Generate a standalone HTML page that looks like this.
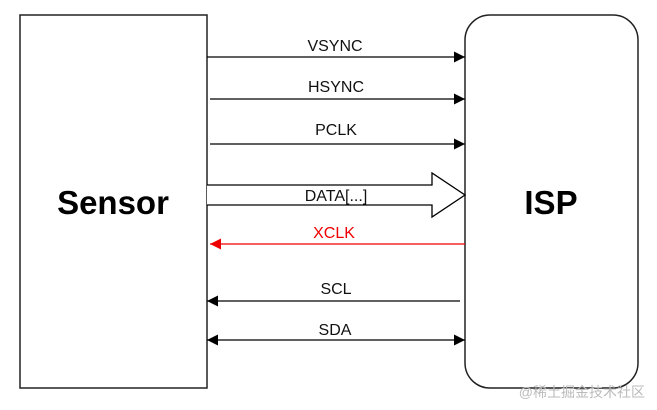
<!DOCTYPE html>
<html><head><meta charset="utf-8"><style>
html,body{margin:0;padding:0;background:#fff;}
svg{display:block;}
text{font-family:"Liberation Sans",Arial,sans-serif;}
</style></head><body>
<svg width="657" height="410" viewBox="0 0 657 410" xmlns="http://www.w3.org/2000/svg">
<defs>
<marker id="a" viewBox="0 0 10 10" refX="10" refY="5" markerWidth="12" markerHeight="11" markerUnits="userSpaceOnUse" orient="auto"><path d="M0,0 L10,5 L0,10 z" fill="#000"/></marker>
<marker id="ab" viewBox="0 0 10 10" refX="10" refY="5" markerWidth="12" markerHeight="11" markerUnits="userSpaceOnUse" orient="auto-start-reverse"><path d="M0,0 L10,5 L0,10 z" fill="#000"/></marker>
<marker id="r" viewBox="0 0 10 10" refX="10" refY="5" markerWidth="12" markerHeight="11" markerUnits="userSpaceOnUse" orient="auto"><path d="M0,0 L10,5 L0,10 z" fill="#e00"/></marker>
</defs>
<rect x="20" y="15" width="187" height="373" fill="#fff" stroke="#222" stroke-width="1.5"/>
<rect x="465" y="15" width="173" height="373" rx="25" ry="25" fill="#fff" stroke="#222" stroke-width="1.5"/>
<text x="113" y="214" font-size="33" font-weight="bold" text-anchor="middle">Sensor</text>
<text x="551" y="214" font-size="33" font-weight="bold" text-anchor="middle">ISP</text>

<g stroke="#000" stroke-width="1.3" fill="none">
<line x1="207" y1="57" x2="465" y2="57" marker-end="url(#a)"/>
<line x1="210" y1="99" x2="465" y2="99" marker-end="url(#a)"/>
<line x1="210" y1="144" x2="465" y2="144" marker-end="url(#a)"/>
<line x1="460" y1="301" x2="207" y2="301" marker-end="url(#a)"/>
<line x1="207" y1="340" x2="465" y2="340" marker-end="url(#ab)" marker-start="url(#ab)"/>
<path d="M207,185 L432,185 L432,173 L465,195 L432,217 L432,205 L207,205" fill="#fff"/>
</g>
<line x1="465" y1="244" x2="210" y2="244" stroke="#e00" stroke-width="1.3" marker-end="url(#r)"/>

<g font-size="16" text-anchor="middle" fill="#111">
<text x="335" y="51">VSYNC</text>
<text x="336" y="92">HSYNC</text>
<text x="336" y="135">PCLK</text>
<text x="336" y="201">DATA[...]</text>
<text x="334" y="238" fill="#e00">XCLK</text>
<text x="336" y="294">SCL</text>
<text x="335" y="335">SDA</text>
</g>
<text x="645" y="397" font-size="14" text-anchor="end" fill="#bbb" font-family="'Liberation Sans','Noto Sans CJK SC',sans-serif">@稀土掘金技术社区</text>
</svg>
</body></html>
